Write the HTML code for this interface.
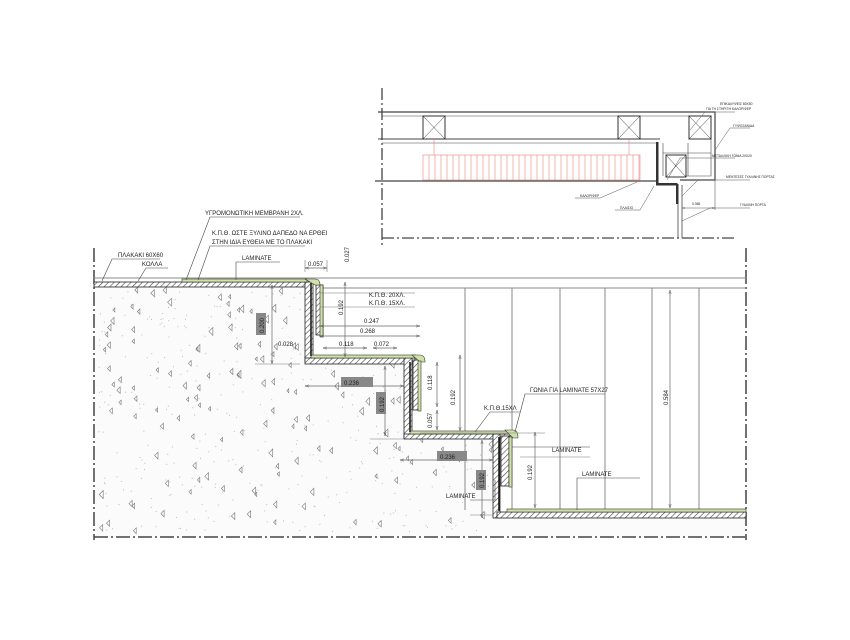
<!DOCTYPE html>
<html><head><meta charset="utf-8"><style>
html,body{margin:0;padding:0;background:#fff}
svg{display:block}
text{font-family:"Liberation Sans",sans-serif;font-size:6px;fill:#222}
.s text{font-size:3.3px}
</style></head><body>
<svg id="d" width="850" height="640" viewBox="0 0 850 640" xmlns="http://www.w3.org/2000/svg">
<defs>
<pattern id="h" width="4" height="4" patternUnits="userSpaceOnUse" patternTransform="rotate(45)">
<rect width="4" height="4" fill="#fff"/><line x1="0" y1="0" x2="0" y2="4" stroke="#444" stroke-width="1.2"/></pattern>
<marker id="a" viewBox="0 0 10 10" refX="10" refY="5" markerWidth="6" markerHeight="6" orient="auto-start-reverse"><path d="M0,2 L10,5 L0,8" fill="none" stroke="#555"/></marker>
</defs>
<g id="conc"></g>
<g fill="none" stroke="#444" stroke-width="1.5">
<line x1="94" y1="248" x2="94" y2="540" stroke-dasharray="14 3 2 3"/>
<line x1="94" y1="537" x2="745" y2="537" stroke-dasharray="14 3 2 3"/>
<line x1="746" y1="248" x2="746" y2="540" stroke-dasharray="14 3 2 3"/>
</g>
<g stroke="#888" stroke-width="1" fill="none">
<line x1="94" y1="278" x2="746" y2="278"/>
<line x1="320" y1="288" x2="746" y2="288"/>
<line x1="465" y1="288" x2="465" y2="510"/><line x1="512" y1="288" x2="512" y2="510"/>
<line x1="560" y1="288" x2="560" y2="510"/><line x1="605" y1="288" x2="605" y2="510"/>
<line x1="652" y1="288" x2="652" y2="510"/><line x1="699" y1="288" x2="699" y2="510"/>
</g>
<g stroke="#222" stroke-width="0.8">
<rect x="94" y="282" width="217" height="5" fill="url(#h)"/>
<rect x="305" y="282" width="8" height="80" fill="url(#h)"/>
<rect x="316" y="285" width="7" height="50" fill="url(#h)"/>
<rect x="305" y="358" width="110" height="6" fill="url(#h)"/>
<rect x="404" y="358" width="8" height="80" fill="url(#h)"/>
<rect x="413" y="360" width="7" height="50" fill="url(#h)"/>
<rect x="404" y="434" width="106" height="5" fill="url(#h)"/>
<rect x="493" y="434" width="7" height="84" fill="url(#h)"/>
<rect x="501" y="436" width="8" height="50" fill="url(#h)"/>
<rect x="497" y="512" width="249" height="6" fill="url(#h)"/>
</g>
<g fill="#cfe3a8" stroke="#333" stroke-width="0.6">
<rect x="182" y="279" width="125" height="3"/>
<path d="M305,279 h10 q5,0 5,6 v0 h-5 z"/>
<rect x="320" y="285" width="3" height="52"/>
<rect x="311" y="355" width="105" height="3"/>
<path d="M412,355 h8 q5,0 5,7 h-5 z"/>
<rect x="418" y="361" width="3" height="50"/>
<rect x="410" y="431" width="100" height="3"/>
<path d="M505,430 h8 q5,0 5,8 h-5 z"/>
<rect x="509" y="437" width="3" height="50"/>
<rect x="507" y="509" width="239" height="3"/>
</g>
<g stroke="#111" stroke-width="1.5" fill="none">
<path d="M311,283 V356"/><path d="M410,362 V432"/><path d="M499,437 V511"/>
</g>
<g stroke="#666" stroke-width="0.7" fill="none" marker-start="url(#a)" marker-end="url(#a)">
<line x1="272" y1="285" x2="272" y2="364"/>
<line x1="345" y1="282" x2="345" y2="357"/>
<line x1="320" y1="326" x2="420" y2="326"/>
<line x1="320" y1="336" x2="420" y2="336"/>
<line x1="323" y1="348" x2="367" y2="348"/>
<line x1="373" y1="348" x2="397" y2="348"/>
<line x1="305" y1="386" x2="404" y2="386"/>
<line x1="385" y1="366" x2="385" y2="436"/>
<line x1="437" y1="362" x2="437" y2="407"/>
<line x1="437" y1="410" x2="437" y2="430"/>
<line x1="460" y1="355" x2="460" y2="431"/>
<line x1="400" y1="460" x2="493" y2="460"/>
<line x1="482" y1="440" x2="482" y2="518"/>
<line x1="535" y1="432" x2="535" y2="508"/>
<line x1="670" y1="290" x2="670" y2="508"/>
<line x1="305" y1="268" x2="327" y2="268"/>
</g>
<g stroke="#777" stroke-width="0.6">
<line x1="320" y1="293" x2="415" y2="293"/><line x1="320" y1="307" x2="415" y2="307"/>
<line x1="420" y1="433" x2="545" y2="433"/><line x1="520" y1="457" x2="590" y2="457"/>
<line x1="255" y1="364" x2="300" y2="364"/><line x1="370" y1="439" x2="404" y2="439"/>
<line x1="470" y1="515" x2="493" y2="515"/>
<line x1="305" y1="260" x2="305" y2="272"/><line x1="327" y1="260" x2="327" y2="272"/>
</g>
<g fill="#888"><rect x="256" y="313" width="10" height="22"/><rect x="341" y="377" width="32" height="10"/><rect x="376" y="392" width="10" height="22"/><rect x="437" y="451" width="30" height="10"/><rect x="476" y="470" width="10" height="20"/></g>
<text x="308" y="266">0.057</text>
<text x="278" y="346">0.028</text><text x="364" y="323">0.247</text><text x="360" y="333">0.268</text>
<text x="339" y="346">0.118</text><text x="374" y="346">0.072</text>
<text x="344" y="385">0.236</text><text x="440" y="459">0.236</text>
<text transform="translate(264,333) rotate(-90)">0.200</text>
<text transform="translate(343,315) rotate(-90)">0.192</text>
<text transform="translate(349,262) rotate(-90)">0.027</text>
<text transform="translate(384,412) rotate(-90)">0.192</text>
<text transform="translate(432,390) rotate(-90)">0.118</text>
<text transform="translate(432,428) rotate(-90)">0.057</text>
<text transform="translate(455,405) rotate(-90)">0.192</text>
<text transform="translate(484,488) rotate(-90)">0.192</text>
<text transform="translate(532,480) rotate(-90)">0.192</text>
<text transform="translate(668,405) rotate(-90)">0.584</text>
<text x="369" y="297">Κ.Π.Θ. 20ΧΛ.</text><text x="369" y="305">Κ.Π.Θ. 15ΧΛ.</text>
<text x="484" y="410">Κ.Π.Θ.15ΧΛ</text><text x="530" y="392">ΓΩΝΙΑ ΓΙΑ LAMINATE 57Χ27</text>
<text x="552" y="452">LAMINATE</text><text x="582" y="476">LAMINATE</text><text x="446" y="498">LAMINATE</text>
<text x="242" y="260">LAMINATE</text><text x="118" y="257">ΠΛΑΚΑΚΙ 60Χ60</text><text x="142" y="266">ΚΟΛΛΑ</text>
<text x="205" y="215">ΥΓΡΟΜΟΝΩΤΙΚΗ ΜΕΜΒΡΑΝΗ 2ΧΛ.</text>
<text x="212" y="235">Κ.Π.Θ. ΩΣΤΕ ΞΥΛΙΝΟ ΔΑΠΕΔΟ ΝΑ ΕΡΘΕΙ</text>
<text x="212" y="244">ΣΤΗΝ ΙΔΙΑ ΕΥΘΕΙΑ ΜΕ ΤΟ ΠΛΑΚΑΚΙ</text>
<g stroke="#444" stroke-width="0.6" fill="none">
<path d="M102,281 L112,259 H160"/><path d="M138,281 L146,268 H168"/>
<path d="M186,280 L210,217 H300"/><path d="M198,280 L210,246 H305"/>
<path d="M236,280 V262 H280"/><path d="M475,432 L490,412 H520"/>
<path d="M515,432 L525,394 H605"/><path d="M512,447 H590"/><path d="M577,510 V478 H640"/><path d="M495,480 V500 H470"/>
</g>
<g fill="none" stroke="#444">
<line x1="382" y1="88" x2="382" y2="245" stroke-width="1.3" stroke-dasharray="12 3 2 3"/>
<line x1="382" y1="238" x2="735" y2="238" stroke-width="1.3" stroke-dasharray="12 3 2 3"/>
<path d="M378,112 H715 V180 H680" stroke-width="1.2"/>
<path d="M382,116 H711 V176 H685" stroke-width="0.6"/>
<path d="M378,139 H660" stroke-width="1"/><path d="M382,143 H656" stroke-width="0.6"/>
<line x1="375" y1="181" x2="657" y2="181" stroke-width="1.2"/>
<line x1="663" y1="143" x2="663" y2="176" stroke-width="0.6"/>
<line x1="688" y1="143" x2="688" y2="176" stroke-width="0.6"/>
<line x1="663" y1="153" x2="711" y2="153" stroke-width="0.6"/>
<line x1="678" y1="185" x2="678" y2="238" stroke-width="0.8"/><line x1="682" y1="185" x2="682" y2="238" stroke-width="0.8"/>
<line x1="715" y1="180" x2="715" y2="210" stroke-width="0.5"/>
</g>
<g fill="none" stroke="#333" stroke-width="1">
<rect x="423" y="116" width="22" height="23"/><path d="M423,116 L445,139 M445,116 L423,139" stroke-width="0.5"/>
<rect x="618" y="116" width="22" height="23"/><path d="M618,116 L640,139 M640,116 L618,139" stroke-width="0.5"/>
<rect x="689" y="116" width="22" height="23"/><path d="M689,116 L711,139 M711,116 L689,139" stroke-width="0.5"/>
<rect x="666" y="155" width="20" height="22"/><path d="M666,155 L686,177 M686,155 L666,177" stroke-width="0.5"/>
</g>
<path d="M656,142 h2.5 v41 h19 v2.5 h-21.5 z" fill="#333"/>
<rect x="676" y="184" width="2.5" height="20" fill="#333"/>
<g id="rad" stroke="#f08080" stroke-width="0.6" fill="none"><rect x="423" y="155" width="217" height="25"/><line x1="434" y1="139" x2="434" y2="155"/><line x1="629" y1="139" x2="629" y2="155"/></g>
<g stroke="#555" stroke-width="0.5" fill="none">
<path d="M637,182 L600,198 H575"/><path d="M654,186 L640,210 H615"/>
<path d="M690,130 L705,112 H735"/><path d="M715,150 L730,128 H750"/>
<path d="M667,180 L680,158 H735"/><path d="M682,196 L698,180 H750"/><path d="M682,221 L710,208 H750"/>
<line x1="682" y1="208" x2="715" y2="208" marker-start="url(#a)" marker-end="url(#a)"/>
</g>
<g class="s"><text x="720" y="105">ΕΠΙΚΑΛΥΨΕΙΣ 80Χ50</text><text x="706" y="110">ΓΙΑ ΤΗ ΣΤΗΡΙΞΗ ΚΑΛΟΡΙΦΕΡ</text>
<text x="733" y="127">ΓΥΨΟΣΑΝΙΔΑ</text><text x="712" y="157">ΜΕΤΑΛΛΙΚΗ ΓΩΝΙΑ 20Χ20</text>
<text x="726" y="178">ΜΕΝΤΕΣΕΣ ΓΥΑΛΙΝΗΣ ΠΟΡΤΑΣ</text><text x="740" y="206">ΓΥΑΛΙΝΗ ΠΟΡΤΑ</text>
<text x="580" y="197">ΚΑΛΟΡΙΦΕΡ</text><text x="620" y="209">ΠΛΑΙΣΙΟ</text><text x="692" y="205">0.065</text></g>
</svg>
<script>
var r=document.getElementById('rad'),s='';
for(var x=429;x<640;x+=6)s+='<line x1="'+x+'" y1="155" x2="'+x+'" y2="180"/>';
r.innerHTML+=s;
var c=document.getElementById('conc'),seed=7;function R(){seed=(seed*9301+49297)%233280;return seed/233280}
var t='<path d="M95,287 H305 V364 H404 V439 H493 V518 H746 V536 H95 Z" fill="#fbfbfb"/>';
for(var i=0;i<170;i++){var x=98+R()*395,y=290+R()*243;
if(x>300&&y<364)continue;if(x>400&&y<439)continue;
var k=2+R()*2;t+='<path d="M'+x.toFixed(1)+','+y.toFixed(1)+' l'+k+','+(-k)+' l0,'+(2*k)+'z" fill="none" stroke="#777" stroke-width="0.6"/>';}
for(var i=0;i<400;i++){var x=98+R()*395,y=290+R()*243;if((x>300&&y<364)||(x>400&&y<439))continue;t+='<rect x="'+x.toFixed(1)+'" y="'+y.toFixed(1)+'" width="1" height="1" fill="#bbb"/>';}
c.innerHTML=t;
</script>
</body></html>
